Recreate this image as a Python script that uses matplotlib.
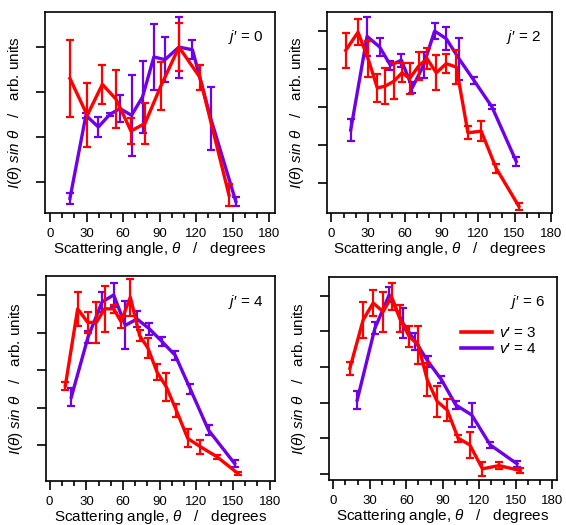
import matplotlib
matplotlib.use("Agg")
import matplotlib.pyplot as plt
from matplotlib.ticker import MultipleLocator
from matplotlib.lines import Line2D

plt.rcParams['font.family'] = ['Liberation Sans', 'DejaVu Sans']
plt.rcParams['mathtext.fontset'] = 'custom'
plt.rcParams['mathtext.rm'] = 'Liberation Sans'
plt.rcParams['mathtext.it'] = 'Liberation Sans:italic'

RED = '#ff0000'
PURPLE = '#7000e6'

# j' = 0
j0_v3_x = [16.4, 30.6, 43.0, 54.2, 66.5, 78.0, 91.0, 105.9, 123.0, 147.0]
j0_v3_y = [3.30, 2.48, 3.17, 2.84, 2.13, 2.30, 3.13, 4.00, 3.33, 0.70]
j0_v3_e = [0.85, 0.71, 0.43, 0.65, 0.29, 0.45, 0.54, 0.54, 0.28, 0.25]
j0_v4_x = [16.4, 29.5, 39.7, 49.2, 57.4, 67.0, 76.0, 85.3, 94.4, 105.9, 117.0, 132.0, 152.6]
j0_v4_y = [0.63, 2.48, 2.22, 2.50, 2.63, 2.48, 2.89, 3.78, 3.72, 4.00, 3.94, 2.41, 0.56]
j0_v4_e = [0.12, 0.05, 0.22, 0.04, 0.30, 0.90, 0.80, 0.74, 0.50, 0.68, 0.21, 0.71, 0.09]

# j' = 2
j2_v3_x = [11.7, 21.8, 30.0, 37.6, 44.2, 51.3, 57.8, 64.1, 71.5, 78.3, 85.9, 94.0, 102.3, 111.8, 122.7, 135.0, 153.5]
j2_v3_y = [4.49, 4.97, 4.27, 3.50, 3.55, 3.68, 3.90, 3.75, 4.08, 4.27, 3.90, 4.14, 4.05, 2.32, 2.36, 1.38, 0.38]
j2_v3_e = [0.46, 0.35, 0.48, 0.38, 0.47, 0.47, 0.25, 0.40, 0.38, 0.28, 0.46, 0.25, 0.44, 0.17, 0.26, 0.11, 0.10]
j2_v4_x = [15.8, 29.2, 39.5, 48.3, 57.3, 66.3, 75.5, 84.5, 94.0, 104.5, 116.7, 131.5, 151.4]
j2_v4_y = [2.39, 4.86, 4.58, 4.10, 4.23, 3.51, 4.10, 5.00, 4.80, 4.27, 3.70, 3.00, 1.56]
j2_v4_e = [0.28, 0.52, 0.23, 0.12, 0.17, 0.15, 0.35, 0.20, 0.30, 0.55, 0.09, 0.05, 0.13]

# j' = 4
j4_v3_x = [12.8, 22.9, 31.1, 38.2, 45.0, 52.4, 58.4, 66.0, 73.6, 80.5, 87.8, 95.5, 103.6, 113.0, 123.3, 137.0, 154.0]
j4_v3_y = [2.58, 4.63, 4.27, 4.27, 4.63, 4.63, 4.29, 4.94, 3.92, 3.58, 2.95, 2.55, 1.93, 1.18, 0.96, 0.69, 0.25]
j4_v3_e = [0.10, 0.45, 0.28, 0.54, 0.62, 0.11, 0.16, 0.49, 0.15, 0.27, 0.21, 0.36, 0.18, 0.24, 0.19, 0.06, 0.05]
j4_v4_x = [17.7, 31.4, 42.8, 52.4, 61.9, 71.5, 81.5, 91.9, 102.8, 115.0, 130.0, 151.4]
j4_v4_y = [2.28, 3.88, 4.81, 5.00, 4.19, 4.36, 4.10, 3.76, 3.39, 2.50, 1.40, 0.51]
j4_v4_e = [0.24, 0.15, 0.27, 0.33, 0.64, 0.22, 0.16, 0.12, 0.13, 0.13, 0.14, 0.09]

# j' = 6
j6_v3_x = [13.7, 24.6, 32.8, 41.0, 47.9, 54.7, 62.4, 69.8, 77.2, 85.4, 93.6, 102.6, 112.2, 122.6, 136.2, 153.7]
j6_v3_y = [2.96, 4.32, 4.79, 4.55, 4.97, 4.36, 3.85, 3.62, 2.64, 2.03, 1.79, 1.00, 0.81, 0.14, 0.23, 0.09]
j6_v3_e = [0.19, 0.50, 0.36, 0.56, 0.37, 0.37, 0.30, 0.54, 0.47, 0.43, 0.30, 0.10, 0.37, 0.19, 0.10, 0.06]
j6_v4_x = [19.7, 34.2, 46.0, 57.4, 67.5, 77.9, 88.9, 100.7, 113.8, 129.0, 151.0]
j6_v4_y = [2.07, 4.08, 5.02, 4.22, 3.71, 3.15, 2.64, 1.93, 1.65, 0.81, 0.28]
j6_v4_e = [0.25, 0.17, 0.21, 0.42, 0.23, 0.16, 0.09, 0.12, 0.33, 0.09, 0.08]

panels = [
    ("$j$′ = 0", j0_v3_x, j0_v3_y, j0_v3_e, j0_v4_x, j0_v4_y, j0_v4_e),
    ("$j$′ = 2", j2_v3_x, j2_v3_y, j2_v3_e, j2_v4_x, j2_v4_y, j2_v4_e),
    ("$j$′ = 4", j4_v3_x, j4_v3_y, j4_v3_e, j4_v4_x, j4_v4_y, j4_v4_e),
    ("$j$′ = 6", j6_v3_x, j6_v3_y, j6_v3_e, j6_v4_x, j6_v4_y, j6_v4_e),
]

# layout per panel: axes rect, xlim, ylim, y ticks
rects = [[0.0795, 0.594, 0.406, 0.383],
         [0.578, 0.594, 0.398, 0.383],
         [0.0813, 0.084, 0.405, 0.390],
         [0.581, 0.086, 0.403, 0.387]]
xlims = [(-4.1, 184.6), (-3.5, 181.0), (-3.0, 184.6), (-3.6, 183.8)]
ylims = [(0.30, 4.78), (0.20, 5.50), (0.05, 5.50), (-0.17, 5.53)]
yticks = [[1, 2, 3, 4], [1, 2, 3, 4, 5], [1, 2, 3, 4, 5], [0, 1, 2, 3, 4, 5]]

fig = plt.figure(figsize=(5.66, 5.25), dpi=100)
eb = dict(lw=2.4, elinewidth=1.6, capsize=2.6, capthick=1.6)

for i, (lab, x3, y3, e3, x4, y4, e4) in enumerate(panels):
    ax = fig.add_axes(rects[i])
    ax.errorbar(x4, y4, yerr=e4, color=PURPLE, zorder=2, **eb)
    ax.errorbar(x3, y3, yerr=e3, color=RED, zorder=3, **eb)
    ax.set_xlim(*xlims[i])
    ax.set_ylim(*ylims[i])
    ax.xaxis.set_major_locator(MultipleLocator(30))
    ax.xaxis.set_minor_locator(MultipleLocator(10))
    ax.set_yticks(yticks[i])
    ax.set_yticklabels([])
    ax.tick_params(axis='both', which='major', direction='out', length=6.5, width=1.2,
                   labelsize=9.5, pad=4.5)
    ax.tick_params(axis='x', which='minor', direction='out', length=3.5, width=1.2)
    for s in ax.spines.values():
        s.set_linewidth(1.2)
    ax.set_xlabel(r"Scattering angle, $\theta$   /   degrees", fontsize=11, labelpad=0)
    ax.set_ylabel(r"$I(\theta)\ sin\ \theta$   /   arb. units", fontsize=11, labelpad=4)
    ax.text(0.95, 0.92, lab, transform=ax.transAxes, ha='right', va='top', fontsize=11)
    if i == 3:
        h = [Line2D([], [], color=RED, lw=2.6), Line2D([], [], color=PURPLE, lw=2.6)]
        ax.legend(h, ["$v$′ = 3", "$v$′ = 4"], loc='upper right', bbox_to_anchor=(0.96, 0.81),
                  frameon=False, fontsize=11, handlelength=2.0, handletextpad=0.5,
                  labelspacing=0.15, borderpad=0.2)

fig.savefig("out.png", dpi=100)
